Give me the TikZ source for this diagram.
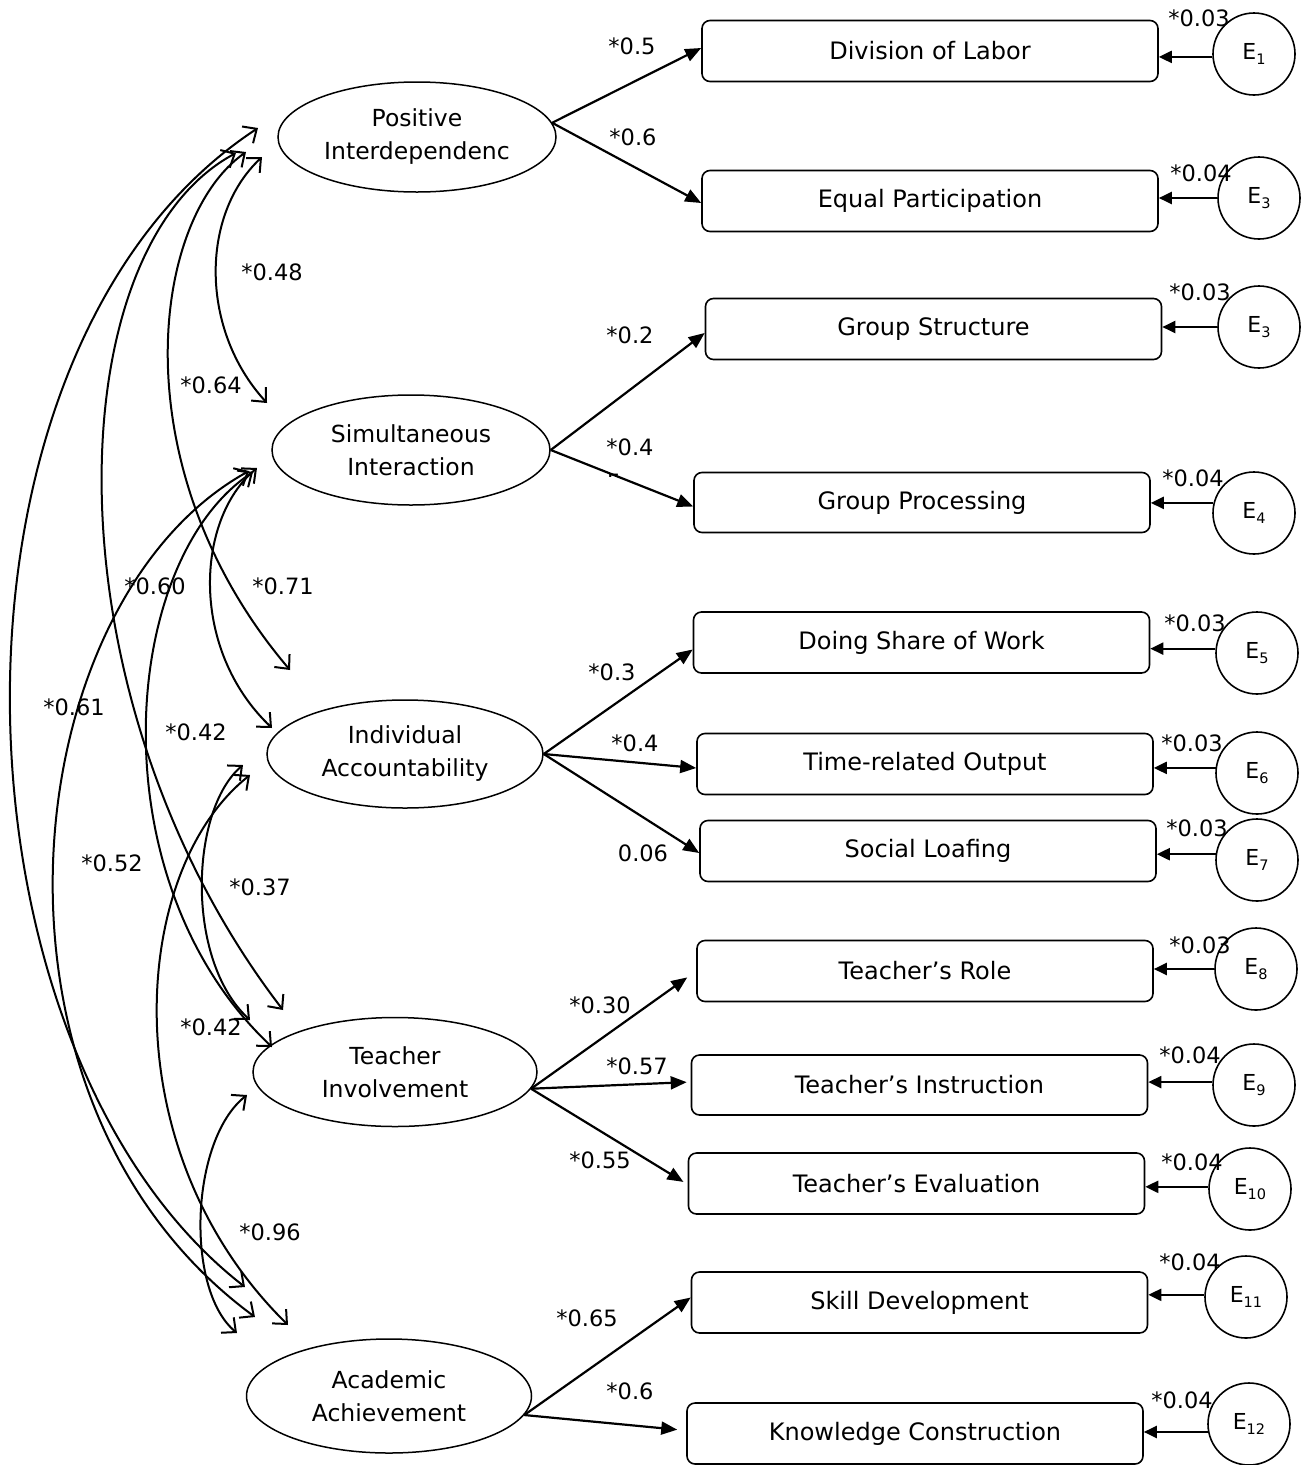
\documentclass[tikz,border=0pt]{standalone}
\usepackage{fontspec}
\setmainfont{DejaVu Sans}
\usetikzlibrary{arrows.meta,shapes.geometric}
\newcommand\Elab[1]{E\raisebox{-5pt}{\fontsize{14.5}{14.5}\selectfont #1}}
\begin{document}
\begin{tikzpicture}[x=1pt,y=-1pt,
 latent/.style={draw, ellipse, line width=1.5pt, inner sep=0pt, align=center, font=\fontsize{23.5}{33}\selectfont},
 obs/.style={draw, rounded corners=8pt, line width=1.6pt, minimum width=456pt, minimum height=61pt, inner sep=0pt, font=\fontsize{24}{28}\selectfont},
 err/.style={draw, circle, line width=1.6pt, minimum size=82pt, inner sep=0pt, font=\fontsize{22}{26}\selectfont},
 num/.style={font=\fontsize{22.5}{26}\selectfont, inner sep=0pt},
 load/.style={line width=2.2pt, -{Triangle[length=16pt,width=13pt]}},
 errarr/.style={line width=2.2pt, -{Triangle[length=13pt,width=12pt]}},
 corr/.style={line width=2pt, {Straight Barb[length=11pt,width=20pt]}-{Straight Barb[length=11pt,width=20pt]}},
]
\useasboundingbox (0,0) rectangle (1303,1465);
\fill[white] (0,0) rectangle (1303,1465);

% latent variables
\node[latent, minimum width=278pt, minimum height=110pt] (PI) at (417,137) {Positive\\Interdependenc};
\node[latent, minimum width=278pt, minimum height=110pt] (SI) at (411,450) {Simultaneous\\Interaction};
\node[latent, minimum width=276pt, minimum height=108pt] (IA) at (405,754) {Individual\\Accountability};
\node[latent, minimum width=284pt, minimum height=109pt] (TI) at (395,1072) {Teacher\\Involvement};
\node[latent, minimum width=285pt, minimum height=114pt] (AA) at (389,1396) {Academic\\Achievement};

% observed variables
\node[obs] (DL) at (930,51) {Division of Labor};
\node[obs] (EP) at (930,201) {Equal Participation};
\node[obs] (GS) at (933.5,329) {Group Structure};
\node[obs, minimum height=60pt] (GP) at (922,502.5) {Group Processing};
\node[obs] (DS) at (921.5,642.5) {Doing Share of Work};
\node[obs] (TO) at (925,764) {Time-related Output};
\node[obs] (SL) at (928,851) {Social Loafing};
\node[obs] (TR) at (925,971) {Teacher’s Role};
\node[obs, minimum height=60pt] (TN) at (919.5,1085) {Teacher’s Instruction};
\node[obs] (TE) at (916.5,1183.5) {Teacher’s Evaluation};
\node[obs] (SD) at (919.5,1302.5) {Skill Development};
\node[obs] (KC) at (915,1433.5) {Knowledge Construction};

% error terms
\node[err] (E1) at (1254,54) {\Elab{1}};
\node[err] (E2) at (1259,198) {\Elab{3}};
\node[err] (E3) at (1259,327) {\Elab{3}};
\node[err] (E4) at (1254,513) {\Elab{4}};
\node[err] (E5) at (1257,653) {\Elab{5}};
\node[err] (E6) at (1257,773) {\Elab{6}};
\node[err] (E7) at (1257,860) {\Elab{7}};
\node[err] (E8) at (1256,969) {\Elab{8}};
\node[err] (E9) at (1254,1085) {\Elab{9}};
\node[err] (E10) at (1250,1189) {\Elab{10}};
\node[err] (E11) at (1246,1297) {\Elab{11}};
\node[err] (E12) at (1249,1424) {\Elab{12}};

% error arrows
\draw[errarr] (E1.184) -- (E1.184 -| DL.east);
\draw[errarr] (E2.180) -- (E2.180 -| EP.east);
\draw[errarr] (E3.180) -- (E3.180 -| GS.east);
\draw[errarr] (E4.166) -- (E4.166 -| GP.east);
\draw[errarr] (E5.174) -- (E5.174 -| DS.east);
\draw[errarr] (E6.173) -- (E6.173 -| TO.east);
\draw[errarr] (E7.172) -- (E7.172 -| SL.east);
\draw[errarr] (E8.180) -- (E8.180 -| TR.east);
\draw[errarr] (E9.176) -- (E9.176 -| TN.east);
\draw[errarr] (E10.177) -- (E10.177 -| TE.east);
\draw[errarr] (E11.177) -- (E11.177 -| SD.east);
\draw[errarr] (E12.191) -- (E12.191 -| KC.east);

% error labels
\node[num] at (1199,18) {*0.03};
\node[num] at (1201,173) {*0.04};
\node[num] at (1200,292) {*0.03};
\node[num] at (1193,478) {*0.04};
\node[num] at (1195,623) {*0.03};
\node[num] at (1192,743) {*0.03};
\node[num] at (1197,828) {*0.03};
\node[num] at (1200,945) {*0.03};
\node[num] at (1190,1055) {*0.04};
\node[num] at (1192,1162) {*0.04};
\node[num] at (1190,1262) {*0.04};
\node[num] at (1182,1400) {*0.04};

% loadings
\draw[load] (PI.6) -- ([yshift=3pt]DL.west);
\draw[load] (PI.6) -- ([yshift=-2pt]EP.west);
\draw[load] (SI.east) -- ([yshift=-4pt]GS.west);
\draw[load] (SI.east) -- ([yshift=-4pt]GP.west);
\draw[load] (IA.east) -- ([yshift=-7pt]DS.west);
\draw[load] (IA.east) -- ([yshift=-4pt]TO.west);
\draw[load] (IA.east) -- ([yshift=-2pt]SL.west);
\draw[load, shorten >=11pt] (TI.-7) -- (TR.west);
\draw[load, shorten >=4pt] (TI.-7) -- ([yshift=3pt]TN.west);
\draw[load, shorten >=5pt] (TI.-7) -- ([yshift=-1pt]TE.west);
\draw[load] (AA.-8) -- ([yshift=5pt]SD.west);
\draw[load, shorten >=9pt] (AA.-8) -- ([yshift=3pt]KC.west);

\node[num] at (632,46) {*0.5};
\node[num] at (633,137) {*0.6};
\node[num] at (630,335) {*0.2};
\node[num] at (630,447) {*0.4};
\begin{scope}
\clip (600,465) rectangle (630,476);
\node[num] at (614,482) {5};
\end{scope}
\node[num] at (612,672) {*0.3};
\node[num] at (635,743) {*0.4};
\node[num] at (643,853) {0.06};
\node[num] at (600,1005) {*0.30};
\node[num] at (637,1066) {*0.57};
\node[num] at (600,1160) {*0.55};
\node[num] at (587,1318) {*0.65};
\node[num] at (630,1391) {*0.6};

% correlation end points
\coordinate (PIa) at (258,128);
\coordinate (PIb) at (236,153);
\coordinate (PIc) at (246,152);
\coordinate (PId) at (262,157);
\coordinate (SIa) at (267,403);
\coordinate (SIb) at (257,468);
\coordinate (SIc) at (253,472);
\coordinate (SId) at (249,471);
\coordinate (IAa) at (290,670);
\coordinate (IAb) at (272,728);
\coordinate (IAc) at (243,765);
\coordinate (IAd) at (250,775);
\coordinate (TIa) at (283,1010);
\coordinate (TIb) at (250,1020);
\coordinate (TIc) at (272,1047);
\coordinate (TId) at (247,1095);
\coordinate (AAa) at (245,1287);
\coordinate (AAb) at (255,1317);
\coordinate (AAc) at (288,1325);
\coordinate (AAd) at (237,1333);

% correlations
\draw[corr] (PId) .. controls (200,215) and (200,330) .. (SIa);
\draw[corr] (PIc) .. controls (150,220) and (120,470) .. (IAa);
\draw[corr] (PIb) .. controls (55,250) and (45,700) .. (TIa);
\draw[corr] (PIa) .. controls (-80,350) and (-60,1050) .. (AAa);
\draw[corr] (SIb) .. controls (195,520) and (190,650) .. (IAb);
\draw[corr] (SIc) .. controls (120,560) and (95,880) .. (TIc);
\draw[corr] (SId) .. controls (15,600) and (-40,1100) .. (AAb);
\draw[corr] (IAc) .. controls (190,810) and (185,960) .. (TIb);
\draw[corr] (IAd) .. controls (130,870) and (110,1150) .. (AAc);
\draw[corr] (TId) .. controls (190,1140) and (185,1290) .. (AAd);

\node[num] at (272,272) {*0.48};
\node[num] at (211,385) {*0.64};
\node[num] at (155,586) {*0.60};
\node[num] at (283,586) {*0.71};
\node[num] at (74,707) {*0.61};
\node[num] at (196,732) {*0.42};
\node[num] at (112,863) {*0.52};
\node[num] at (260,887) {*0.37};
\node[num] at (211,1027) {*0.42};
\node[num] at (270,1232) {*0.96};
\end{tikzpicture}
\end{document}
